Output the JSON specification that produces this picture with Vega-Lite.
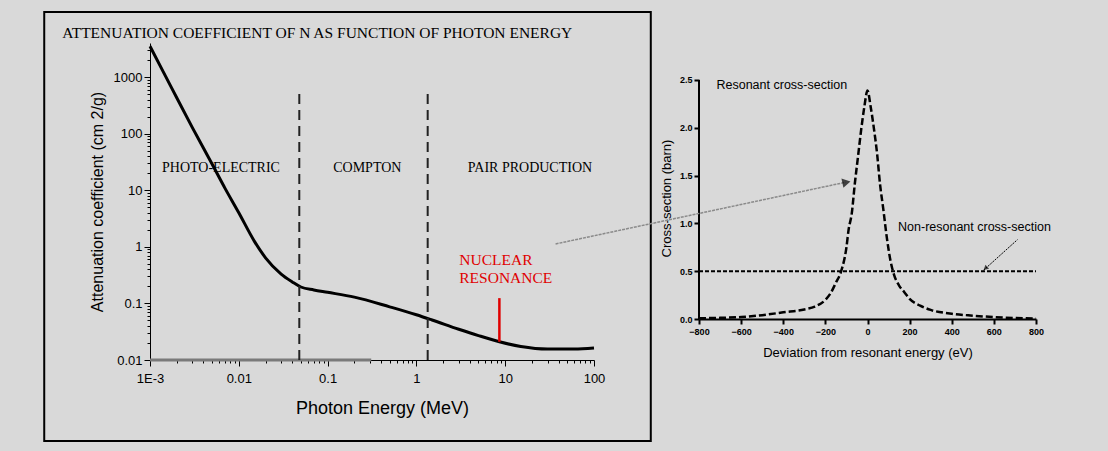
{
  "$schema": "https://vega.github.io/schema/vega-lite/v6.json",
  "background": "#d9d9d9",
  "padding": {"left": 43, "top": 11, "right": 60, "bottom": 9},
  "config": {
    "view": {"stroke": null},
    "axis": {"domainColor": "#000", "tickColor": "#000", "labelColor": "#000", "titleColor": "#000", "titleFontWeight": "normal", "grid": false, "labelOverlap": false, "labelFlush": false}
  },
  "bounds": "flush",
  "spacing": 105,
  "hconcat": [
    {
      "width": 444,
      "height": 317,
      "data": {"values": [
        {"energy_MeV": 0.001, "attenuation": 3500},
        {"energy_MeV": 0.0015, "attenuation": 1030},
        {"energy_MeV": 0.002, "attenuation": 430},
        {"energy_MeV": 0.003, "attenuation": 128},
        {"energy_MeV": 0.005, "attenuation": 29},
        {"energy_MeV": 0.007, "attenuation": 10.8},
        {"energy_MeV": 0.01, "attenuation": 4},
        {"energy_MeV": 0.015, "attenuation": 1.25},
        {"energy_MeV": 0.02, "attenuation": 0.64},
        {"energy_MeV": 0.03, "attenuation": 0.33},
        {"energy_MeV": 0.04, "attenuation": 0.24},
        {"energy_MeV": 0.05, "attenuation": 0.195},
        {"energy_MeV": 0.07, "attenuation": 0.173},
        {"energy_MeV": 0.1, "attenuation": 0.157},
        {"energy_MeV": 0.2, "attenuation": 0.129},
        {"energy_MeV": 0.5, "attenuation": 0.087},
        {"energy_MeV": 1, "attenuation": 0.063},
        {"energy_MeV": 1.5, "attenuation": 0.051},
        {"energy_MeV": 3, "attenuation": 0.035},
        {"energy_MeV": 5, "attenuation": 0.027},
        {"energy_MeV": 8.6, "attenuation": 0.021},
        {"energy_MeV": 15, "attenuation": 0.0173},
        {"energy_MeV": 30, "attenuation": 0.0156},
        {"energy_MeV": 60, "attenuation": 0.0156},
        {"energy_MeV": 100, "attenuation": 0.0163}
      ]},
      "layer": [
        {
          "mark": {"type": "line", "stroke": "#000", "strokeWidth": 3, "interpolate": "monotone"},
          "encoding": {
            "x": {
              "field": "energy_MeV", "type": "quantitative",
              "scale": {"type": "log", "domain": [0.001, 100], "nice": false},
              "axis": {
                "title": "Photon Energy (MeV)",
                "titleFont": "Liberation Sans", "titleFontSize": 18, "titlePadding": 14, "titleX": 232,
                "labelFont": "Liberation Sans", "labelFontSize": 13, "labelPadding": 6,
                "values": [0.001,0.002,0.003,0.004,0.005,0.006,0.007,0.008,0.009,0.01,0.02,0.03,0.04,0.05,0.06,0.07,0.08,0.09,0.1,0.2,0.3,0.4,0.5,0.6,0.7,0.8,0.9,1,2,3,4,5,6,7,8,9,10,20,30,40,50,60,70,80,90,100],
                "labelExpr": "datum.value < 0.0015 ? '1E-3' : (abs(log(datum.value)/LN10 - round(log(datum.value)/LN10)) < 1e-6 ? format(datum.value, '~g') : '')",
                "tickSize": {"condition": {"test": "abs(log(datum.value)/LN10 - round(log(datum.value)/LN10)) < 1e-6", "value": 6}, "value": 3}
              }
            },
            "y": {
              "field": "attenuation", "type": "quantitative",
              "scale": {"type": "log", "domain": [0.01, 4000], "nice": false},
              "axis": {
                "title": "Attenuation coefficient (cm 2/g)",
                "titleFont": "Liberation Sans", "titleFontSize": 16, "titlePadding": 8,
                "labelFont": "Liberation Sans", "labelFontSize": 13, "labelPadding": 2,
                "values": [0.01,0.02,0.03,0.04,0.05,0.06,0.07,0.08,0.09,0.1,0.2,0.3,0.4,0.5,0.6,0.7,0.8,0.9,1,2,3,4,5,6,7,8,9,10,20,30,40,50,60,70,80,90,100,200,300,400,500,600,700,800,900,1000,2000,3000],
                "labelExpr": "abs(log(datum.value)/LN10 - round(log(datum.value)/LN10)) < 1e-6 ? format(datum.value, '~g') : ''",
                "tickSize": {"condition": {"test": "abs(log(datum.value)/LN10 - round(log(datum.value)/LN10)) < 1e-6", "value": 6}, "value": 3}
              }
            }
          }
        },
        {
          "data": {"values": [{}]},
          "mark": {"type": "rect", "fill": "transparent", "stroke": "#000", "strokeWidth": 2, "clip": false},
          "encoding": {
            "x": {"datum": 0.0000644, "type": "quantitative"},
            "x2": {"datum": 436},
            "y": {"datum": 0.000371, "type": "quantitative"},
            "y2": {"datum": 14060}
          }
        },
        {
          "data": {"values": [{}]},
          "mark": {"type": "rule", "stroke": "#7a7a7a", "strokeWidth": 3, "clip": false},
          "encoding": {
            "x": {"datum": 0.001, "type": "quantitative"},
            "x2": {"datum": 0.31},
            "y": {"datum": 0.01, "type": "quantitative"}
          }
        },
        {
          "data": {"values": [{"boundary_MeV": 0.048}, {"boundary_MeV": 1.34}]},
          "mark": {"type": "rule", "stroke": "#222", "strokeWidth": 2, "strokeDash": [10, 6]},
          "encoding": {
            "x": {"field": "boundary_MeV", "type": "quantitative"},
            "y": {"datum": 0.01, "type": "quantitative"},
            "y2": {"datum": 640}
          }
        },
        {
          "data": {"values": [{}]},
          "mark": {"type": "text", "text": "ATTENUATION COEFFICIENT OF N AS FUNCTION OF PHOTON ENERGY", "font": "Liberation Serif", "fontSize": 15.5, "align": "left", "baseline": "middle", "clip": false, "letterSpacing": 1.1},
          "encoding": {
            "x": {"datum": 0.0001026, "type": "quantitative"},
            "y": {"datum": 5980, "type": "quantitative"}
          }
        },
        {
          "data": {"values": [{"region": "PHOTO-ELECTRIC", "center_MeV": 0.0063}, {"region": "COMPTON", "center_MeV": 0.28}, {"region": "PAIR PRODUCTION", "center_MeV": 19}]},
          "mark": {"type": "text", "font": "Liberation Serif", "fontSize": 14, "align": "center", "baseline": "middle"},
          "encoding": {
            "x": {"field": "center_MeV", "type": "quantitative"},
            "y": {"datum": 24.5, "type": "quantitative"},
            "text": {"field": "region"}
          }
        },
        {
          "data": {"values": [{}]},
          "mark": {"type": "text", "text": ["NUCLEAR", "RESONANCE"], "lineHeight": 18, "font": "Liberation Serif", "fontSize": 15.5, "align": "left", "baseline": "middle", "fill": "#e00000"},
          "encoding": {
            "x": {"datum": 3.04, "type": "quantitative"},
            "y": {"datum": 0.585, "type": "quantitative"}
          }
        },
        {
          "data": {"values": [{}]},
          "mark": {"type": "rule", "stroke": "#e00000", "strokeWidth": 2.5},
          "encoding": {
            "x": {"datum": 8.6, "type": "quantitative"},
            "y": {"datum": 0.021, "type": "quantitative"},
            "y2": {"datum": 0.124}
          }
        }
      ]
    },
    {
      "width": 337,
      "height": 276,
      "data": {"values": [
        {"deviation_eV": -800, "cross_section_barn": 0.008},
        {"deviation_eV": -700, "cross_section_barn": 0.012},
        {"deviation_eV": -600, "cross_section_barn": 0.02},
        {"deviation_eV": -500, "cross_section_barn": 0.04},
        {"deviation_eV": -400, "cross_section_barn": 0.07},
        {"deviation_eV": -300, "cross_section_barn": 0.1},
        {"deviation_eV": -250, "cross_section_barn": 0.13},
        {"deviation_eV": -200, "cross_section_barn": 0.2},
        {"deviation_eV": -175, "cross_section_barn": 0.27},
        {"deviation_eV": -150, "cross_section_barn": 0.38},
        {"deviation_eV": -125, "cross_section_barn": 0.5},
        {"deviation_eV": -100, "cross_section_barn": 0.75},
        {"deviation_eV": -90, "cross_section_barn": 0.93},
        {"deviation_eV": -75, "cross_section_barn": 1.1},
        {"deviation_eV": -60, "cross_section_barn": 1.42},
        {"deviation_eV": -45, "cross_section_barn": 1.7},
        {"deviation_eV": -30, "cross_section_barn": 1.98},
        {"deviation_eV": -15, "cross_section_barn": 2.22},
        {"deviation_eV": 0, "cross_section_barn": 2.39},
        {"deviation_eV": 15, "cross_section_barn": 2.22},
        {"deviation_eV": 30, "cross_section_barn": 2.0},
        {"deviation_eV": 45, "cross_section_barn": 1.74},
        {"deviation_eV": 60, "cross_section_barn": 1.4},
        {"deviation_eV": 75, "cross_section_barn": 1.15},
        {"deviation_eV": 90, "cross_section_barn": 0.88},
        {"deviation_eV": 110, "cross_section_barn": 0.6},
        {"deviation_eV": 125, "cross_section_barn": 0.47},
        {"deviation_eV": 150, "cross_section_barn": 0.35},
        {"deviation_eV": 175, "cross_section_barn": 0.28},
        {"deviation_eV": 200, "cross_section_barn": 0.21},
        {"deviation_eV": 250, "cross_section_barn": 0.14},
        {"deviation_eV": 300, "cross_section_barn": 0.095},
        {"deviation_eV": 400, "cross_section_barn": 0.055},
        {"deviation_eV": 500, "cross_section_barn": 0.035},
        {"deviation_eV": 600, "cross_section_barn": 0.02},
        {"deviation_eV": 700, "cross_section_barn": 0.01},
        {"deviation_eV": 800, "cross_section_barn": 0.006}
      ]},
      "layer": [
        {
          "mark": {"type": "line", "stroke": "#000", "strokeWidth": 2.5, "strokeDash": [7, 3], "interpolate": "monotone"},
          "encoding": {
            "x": {
              "field": "deviation_eV", "type": "quantitative",
              "scale": {"domain": [-800, 800], "nice": false, "zero": false},
              "axis": {
                "title": "Deviation from resonant energy (eV)",
                "titleFont": "Liberation Sans", "titleFontSize": 13, "titlePadding": 10,
                "labelFont": "Liberation Sans", "labelFontSize": 9, "labelFontWeight": "bold", "labelPadding": 3,
                "domainWidth": 2,
                "values": [-800,-700,-600,-500,-400,-300,-200,-100,0,100,200,300,400,500,600,700,800],
                "labelExpr": "datum.value % 200 == 0 ? format(datum.value, 'd') : ''",
                "tickSize": {"condition": {"test": "datum.value % 200 == 0", "value": 5}, "value": 3},
                "tickWidth": 2
              }
            },
            "y": {
              "field": "cross_section_barn", "type": "quantitative",
              "scale": {"domain": [0, 2.887], "nice": false},
              "axis": {
                "title": "Cross-section (barn)",
                "titleFont": "Liberation Sans", "titleFontSize": 13,
                "titleX": -33, "titleY": 155, "titleAngle": -90, "titleAlign": "center", "titleBaseline": "middle",
                "labelFont": "Liberation Sans", "labelFontSize": 9, "labelFontWeight": "bold", "labelPadding": 2,
                "domain": false,
                "values": [0,0.25,0.5,0.75,1,1.25,1.5,1.75,2,2.25,2.5],
                "labelExpr": "abs(datum.value*2 - round(datum.value*2)) < 1e-6 ? format(datum.value, '.1f') : ''",
                "tickSize": {"condition": {"test": "abs(datum.value*2 - round(datum.value*2)) < 1e-6", "value": 5}, "value": 3},
                "tickWidth": 2
              }
            }
          }
        },
        {
          "data": {"values": [{}]},
          "mark": {"type": "rule", "stroke": "#000", "strokeWidth": 2},
          "encoding": {
            "x": {"datum": -800, "type": "quantitative"},
            "y": {"datum": 0, "type": "quantitative"},
            "y2": {"datum": 2.5}
          }
        },
        {
          "data": {"values": [{}]},
          "mark": {"type": "rule", "stroke": "#000", "strokeWidth": 2, "strokeDash": [4, 2]},
          "encoding": {
            "x": {"datum": -800, "type": "quantitative"},
            "x2": {"datum": 800},
            "y": {"datum": 0.5, "type": "quantitative"}
          }
        },
        {
          "data": {"values": [{}]},
          "mark": {"type": "text", "text": "Resonant cross-section", "font": "Liberation Sans", "fontSize": 12.5, "align": "left", "baseline": "middle"},
          "encoding": {
            "x": {"datum": -717, "type": "quantitative"},
            "y": {"datum": 2.448, "type": "quantitative"}
          }
        },
        {
          "data": {"values": [{}]},
          "mark": {"type": "text", "text": "Non-resonant cross-section", "font": "Liberation Sans", "fontSize": 12.5, "align": "left", "baseline": "middle", "clip": false},
          "encoding": {
            "x": {"datum": 145, "type": "quantitative"},
            "y": {"datum": 0.962, "type": "quantitative"}
          }
        },
        {
          "data": {"values": [{}]},
          "mark": {"type": "rule", "stroke": "#000", "strokeWidth": 1, "strokeDash": [2, 1]},
          "encoding": {
            "x": {"datum": 551, "type": "quantitative"},
            "x2": {"datum": 712},
            "y": {"datum": 0.51, "type": "quantitative"},
            "y2": {"datum": 0.83}
          }
        },
        {
          "data": {"values": [{}]},
          "mark": {"type": "point", "shape": "triangle-up", "filled": true, "fill": "#000", "size": 30, "angle": 229},
          "encoding": {
            "x": {"datum": 560, "type": "quantitative"},
            "y": {"datum": 0.53, "type": "quantitative"}
          }
        },
        {
          "data": {"values": [{}]},
          "mark": {"type": "rule", "stroke": "#8a8a8a", "strokeWidth": 1.5, "strokeDash": [3, 1], "clip": false},
          "encoding": {
            "x": {"datum": -1481, "type": "quantitative"},
            "x2": {"datum": -105},
            "y": {"datum": 0.785, "type": "quantitative"},
            "y2": {"datum": 1.43}
          }
        },
        {
          "data": {"values": [{}]},
          "mark": {"type": "point", "shape": "triangle-up", "filled": true, "fill": "#000", "size": 90, "angle": 78},
          "encoding": {
            "x": {"datum": -100, "type": "quantitative"},
            "y": {"datum": 1.43, "type": "quantitative"}
          }
        }
      ]
    }
  ]
}
